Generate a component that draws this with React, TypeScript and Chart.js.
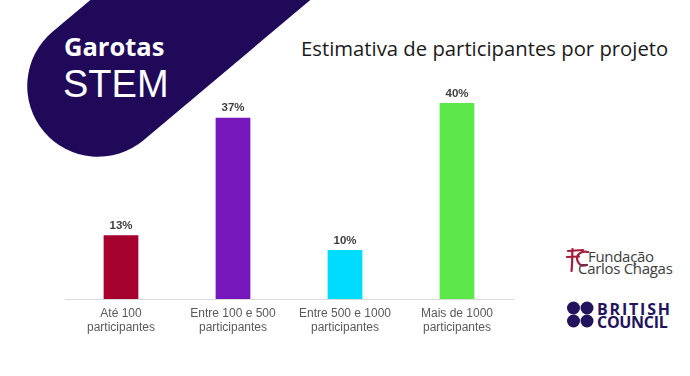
import React, { useEffect, useRef } from "react";
import { Chart, registerables } from "chart.js";

Chart.register(...registerables);

const categories: string[][] = [
  ["Até 100", "participantes"],
  ["Entre 100 e 500", "participantes"],
  ["Entre 500 e 1000", "participantes"],
  ["Mais de 1000", "participantes"],
];
const values: number[] = [13, 37, 10, 40];
const barColors: string[] = ["#A6002F", "#7517BA", "#00DCFF", "#5CE84A"];
const titleText = "Estimativa de participantes por projeto";

const valueLabelPlugin = {
  id: "valueLabels",
  afterDatasetsDraw(chart: any) {
    const ctx = chart.ctx;
    const meta = chart.getDatasetMeta(0);
    ctx.save();
    ctx.font = "bold 11.5px 'Liberation Sans', Arial, sans-serif";
    ctx.fillStyle = "#404040";
    ctx.textAlign = "center";
    ctx.textBaseline = "alphabetic";
    meta.data.forEach((bar: any, i: number) => {
      ctx.fillText(values[i] + "%", bar.x, bar.y - 6.5);
    });
    ctx.restore();
  },
};

export default function App() {
  const canvasRef = useRef<HTMLCanvasElement | null>(null);

  useEffect(() => {
    if (!canvasRef.current) return;
    const chart = new Chart(canvasRef.current, {
      type: "bar",
      data: {
        labels: categories,
        datasets: [
          {
            data: values,
            backgroundColor: barColors,
            borderWidth: 0,
            categoryPercentage: 1,
            barPercentage: 0.31,
          },
        ],
      },
      options: {
        responsive: false,
        animation: false,
        devicePixelRatio: 1,
        layout: { padding: { left: 65, right: 177, top: 54, bottom: 37 } },
        plugins: {
          legend: { display: false },
          tooltip: { enabled: false },
          title: { display: false },
        },
        scales: {
          y: { display: false, min: 0, max: 50 },
          x: {
            afterFit: (scale: any) => {
              scale.height = 40;
            },
            grid: { display: false, drawTicks: false },
            border: { display: true, color: "#D9D9D9", width: 1 },
            ticks: {
              color: "#595959",
              padding: 7.5,
              font: { family: "'Liberation Sans', Arial, sans-serif", size: 12, lineHeight: 1.17 },
              maxRotation: 0,
              autoSkip: false,
            },
          },
        },
      },
      plugins: [valueLabelPlugin],
    });
    return () => chart.destroy();
  }, []);

  const abs: React.CSSProperties = { position: "absolute", whiteSpace: "nowrap", margin: 0 };

  return (
    <div style={{ position: "absolute", left: 0, top: 0, width: 690, height: 376, background: "#fff", overflow: "hidden" }}>
      <svg width={690} height={376} style={{ position: "absolute", left: 0, top: 0 }}>
        <path d="M 358.5 -225 L 52.5 31.8 A 70.7 70.7 0 0 0 143.5 140.2 L 449.5 -117 Z" fill="#21095A" />
        {/* FC mark */}
        <g stroke="#A51C3A" strokeWidth={2.2} fill="none" strokeLinecap="round">
          <path d="M 572.5 249 C 572 256, 572.5 264, 571.5 271" />
          <path d="M 568 251 L 583 250" />
          <path d="M 567 257 L 579 256.5" />
          <path d="M 588 252 C 580 250, 575 256, 578 262 C 580 266, 584 266, 587 265" />
        </g>
        {/* British Council dots */}
        <g fill="#23135C">
          <circle cx={573.5} cy={308} r={6.5} />
          <circle cx={587} cy={308} r={6.5} />
          <circle cx={573.5} cy={321} r={6.5} />
          <circle cx={587} cy={321} r={6.5} />
        </g>
      </svg>
      <div style={{ ...abs, left: 64, top: 34.4, fontFamily: "'Open Sans', sans-serif", fontWeight: 700, fontSize: 25.5, lineHeight: "25.5px", color: "#fff" }}>
        Garotas
      </div>
      <div style={{ ...abs, left: 63, top: 64.8, fontFamily: "'Liberation Sans', Arial, sans-serif", fontSize: 38, lineHeight: "38px", color: "#fff" }}>
        STEM
      </div>
      <div style={{ ...abs, left: 301, top: 38, fontFamily: "'Open Sans', sans-serif", fontSize: 20.3, lineHeight: "20.3px", color: "#1A1A1A" }}>
        {titleText}
      </div>
      <div style={{ ...abs, left: 588, top: 248.7, fontFamily: "'Open Sans', sans-serif", fontSize: 15, lineHeight: "15px", color: "#3C3C3C", letterSpacing: -0.3 }}>
        Fundação
      </div>
      <div style={{ ...abs, left: 578, top: 260.7, fontFamily: "'Open Sans', sans-serif", fontSize: 15, lineHeight: "15px", color: "#3C3C3C", letterSpacing: -0.3 }}>
        Carlos Chagas
      </div>
      <div style={{ ...abs, left: 597, top: 300.8, fontFamily: "'Open Sans', sans-serif", fontWeight: 700, fontSize: 16, lineHeight: "16px", color: "#23135C", letterSpacing: 1.8 }}>
        BRITISH
      </div>
      <div style={{ ...abs, left: 597, top: 314.1, fontFamily: "'Open Sans', sans-serif", fontWeight: 700, fontSize: 16, lineHeight: "16px", color: "#23135C", letterSpacing: -0.3 }}>
        COUNCIL
      </div>
      <canvas ref={canvasRef} width={690} height={376} style={{ position: "absolute", left: 0, top: 0 }} />
    </div>
  );
}
